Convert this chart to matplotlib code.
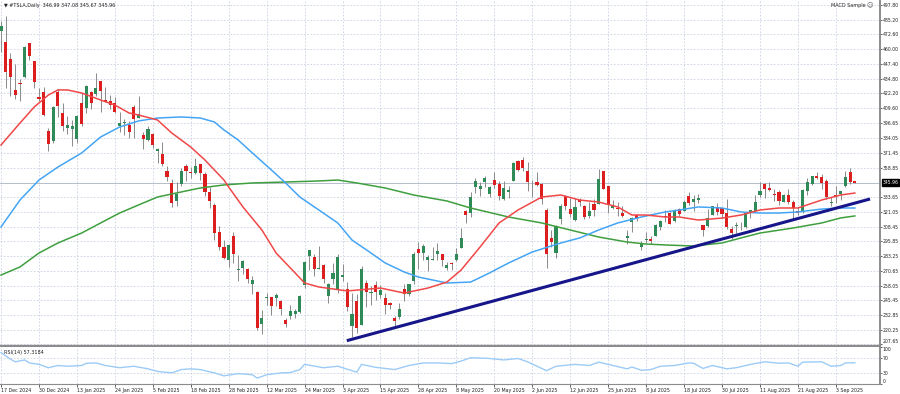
import matplotlib
matplotlib.use("Agg")
import matplotlib.pyplot as plt
import numpy as np
import pandas as pd

# trading days shown on the chart (US market holidays removed)
holidays = ["2024-12-25", "2025-01-01", "2025-01-09", "2025-01-20", "2025-02-17",
            "2025-04-18", "2025-05-26", "2025-06-19", "2025-07-04", "2025-09-01"]
dates = pd.bdate_range("2024-12-17", "2025-09-09")
dates = dates[~dates.isin(pd.to_datetime(holidays))]

opens = [
    475.90, 466.50, 451.88, 425.51, 431.00, 435.90, 465.16, 449.52, 419.40, 423.79,
    390.10, 381.48, 423.20, 405.83, 392.95, 391.40, 383.21, 414.34, 409.90, 423.49,
    421.50, 432.64, 416.81, 416.06, 414.45, 394.80, 396.91, 395.21, 410.78, 401.53,
    386.68, 382.63, 387.51, 373.03, 370.19, 356.21, 345.80, 329.94, 345.00, 360.62,
    355.01, 354.00, 361.51, 353.44, 338.14, 327.02, 303.71, 291.16, 279.50,
    300.34, 270.93, 272.92, 272.06, 259.32, 252.54, 225.31, 247.22, 248.13, 247.31,
    245.06, 228.16, 231.61, 233.35, 234.99, 258.08, 283.60, 282.66, 272.48, 275.58, 249.31,
    263.80, 254.60, 265.29, 255.38, 223.78, 245.00, 224.69, 260.00, 251.84, 258.36,
    249.91, 247.61, 243.47, 230.26, 230.96, 254.86, 250.50, 261.69, 288.98, 285.50, 279.90,
    280.01, 284.90, 284.57, 273.11, 276.88, 279.63, 290.21, 321.99, 320.00, 342.50,
    340.34, 346.24, 336.30, 347.87, 344.43, 331.90, 337.92, 347.35, 364.84, 365.29, 355.52,
    343.50, 346.60, 345.10, 322.49, 298.83, 285.96, 314.94, 334.40, 323.08, 313.97,
    331.29, 326.09, 317.31, 327.95, 327.54, 356.17, 342.70, 324.61, 324.51, 319.90,
    298.46, 312.63, 317.99, 291.37, 297.00, 297.55, 300.05, 307.89, 317.73, 319.68,
    312.80, 323.15, 321.66, 334.40, 329.74, 330.90, 310.00, 308.74, 318.45, 325.55, 324.53, 319.61,
    306.21, 309.08, 308.95, 307.89, 319.79, 321.43, 335.00, 345.00, 341.50, 335.76,
    337.66, 329.62, 335.79, 329.22, 322.08, 321.66, 338.90, 344.93, 351.94, 350.91, 347.23,
    328.23, 335.20, 336.15, 343.50, 354.64, 346.99,
]
highs = [
    483.99, 488.54, 456.36, 447.08, 434.51, 462.78, 465.33, 450.00, 427.00, 427.93,
    392.73, 411.88, 426.43, 414.33, 402.50, 399.28, 403.79, 422.64, 429.80, 424.00,
    439.74, 433.20, 428.00, 420.73, 418.88, 406.69, 400.59, 398.59, 412.50, 419.99,
    389.17, 394.00, 388.39, 375.40, 380.55, 360.00, 349.37, 346.40, 358.69, 362.00,
    359.10, 367.34, 362.30, 354.98, 342.40, 328.89, 309.00, 297.23, 293.88,
    303.94, 284.35, 279.55, 272.65, 266.25, 253.37, 237.06, 251.84, 248.29, 251.58,
    245.40, 230.10, 241.67, 238.00, 249.52, 278.64, 288.20, 284.90, 291.85, 276.10, 260.56,
    277.45, 284.99, 276.30, 261.00, 252.00, 250.44, 274.69, 262.49, 257.74, 261.80,
    258.75, 251.97, 244.34, 232.21, 242.79, 259.45, 259.54, 286.85, 294.86, 293.32, 284.45,
    290.87, 294.78, 284.85, 277.73, 277.92, 289.80, 307.04, 322.21, 337.59, 350.00,
    346.14, 351.62, 343.00, 354.99, 347.35, 347.27, 343.18, 363.79, 365.00, 367.71, 363.68,
    348.02, 355.40, 345.60, 324.55, 305.50, 309.83, 327.83, 335.50, 332.56, 332.99,
    332.47, 327.26, 329.32, 332.36, 357.54, 356.26, 343.00, 331.05, 329.34, 325.58,
    305.89, 316.83, 318.45, 296.15, 304.05, 300.15, 310.48, 314.09, 322.60, 321.20,
    323.50, 324.34, 330.90, 338.00, 335.41, 336.20, 310.15, 323.63, 326.25, 328.98, 324.72, 331.61,
    309.31, 312.12, 312.45, 320.47, 322.40, 335.15, 346.64, 345.26, 346.23, 340.47,
    339.30, 336.27, 340.55, 331.37, 324.90, 340.25, 349.53, 351.90, 355.39, 353.55, 348.75,
    333.33, 343.33, 338.89, 355.87, 358.44, 347.08,
]
lows = [
    457.51, 427.01, 420.02, 417.64, 415.41, 435.14, 451.02, 426.50, 415.75, 402.54,
    373.04, 379.45, 401.70, 390.00, 387.40, 377.29, 380.07, 394.54, 405.66, 409.13,
    419.75, 406.31, 414.59, 408.95, 405.78, 389.00, 386.50, 384.48, 384.41, 401.34,
    374.36, 381.40, 375.53, 363.18, 360.34, 347.00, 325.10, 326.33, 342.85, 347.50,
    350.02, 353.67, 348.00, 334.42, 324.70, 297.25, 288.04, 280.88, 273.60,
    277.30, 261.84, 267.71, 260.02, 250.73, 220.00, 217.02, 241.10, 232.60, 240.73,
    232.80, 222.28, 229.20, 230.05, 234.55, 256.33, 271.28, 266.51, 271.82, 260.57, 243.36,
    259.25, 251.27, 261.51, 236.00, 214.25, 217.80, 223.88, 239.33, 241.36, 245.93,
    247.54, 233.89, 237.68, 222.79, 229.85, 244.43, 249.20, 259.63, 272.42, 279.47, 270.78,
    279.81, 279.81, 274.40, 271.35, 271.00, 279.41, 290.00, 311.50, 316.80, 337.00,
    334.72, 342.33, 333.37, 341.63, 331.33, 331.39, 333.21, 347.32, 355.91, 356.00, 338.94,
    333.33, 343.04, 327.33, 273.21, 291.14, 281.85, 310.67, 322.50, 316.86, 313.30,
    326.41, 314.74, 315.45, 317.78, 327.48, 340.44, 320.40, 323.61, 317.50, 316.60,
    293.21, 303.82, 312.76, 288.77, 294.35, 293.55, 300.00, 305.65, 312.67, 310.50,
    312.62, 317.06, 321.42, 326.88, 321.55, 328.67, 300.41, 308.01, 318.25, 318.60, 315.81, 306.01,
    297.82, 303.00, 305.50, 306.93, 316.16, 320.98, 334.11, 332.94, 338.50, 330.40,
    327.02, 329.59, 327.85, 314.60, 318.68, 319.69, 335.03, 343.72, 349.16, 340.26, 331.70,
    325.60, 328.51, 331.48, 342.00, 344.84, 345.67,
]
closes = [
    479.86, 440.13, 436.17, 421.06, 430.60, 462.28, 454.13, 431.66, 417.41, 403.84,
    379.28, 410.44, 411.05, 394.36, 394.94, 394.74, 403.31, 396.36, 428.22, 413.82,
    426.50, 424.07, 415.11, 412.38, 406.58, 397.15, 398.09, 389.10, 400.28, 404.60,
    383.68, 392.21, 378.17, 374.32, 361.62, 350.73, 328.50, 336.51, 355.94, 355.84,
    354.11, 360.56, 354.40, 337.80, 330.53, 302.80, 290.80, 281.95, 292.98,
    284.65, 272.04, 279.10, 263.45, 262.67, 222.15, 230.58, 248.09, 240.68, 249.98,
    238.01, 225.31, 235.86, 236.26, 248.71, 278.39, 288.14, 272.06, 273.13, 263.55, 259.16,
    268.46, 282.76, 267.28, 239.43, 233.29, 221.86, 272.20, 252.40, 252.31, 252.35,
    254.11, 241.55, 241.37, 227.50, 237.97, 250.74, 259.51, 284.95, 285.88, 292.03, 282.16,
    280.52, 287.21, 280.26, 275.35, 276.22, 284.82, 298.26, 318.38, 334.07, 347.68,
    342.82, 349.98, 342.09, 343.82, 334.62, 341.04, 339.34, 362.89, 356.90, 358.43, 346.46,
    342.69, 344.27, 332.05, 284.70, 295.14, 308.58, 326.09, 326.43, 319.11, 325.31,
    329.13, 316.35, 322.05, 322.16, 348.68, 340.47, 327.55, 325.78, 323.63, 317.66,
    300.71, 315.65, 315.35, 293.94, 297.81, 295.88, 309.87, 313.51, 316.90, 310.78,
    321.67, 319.41, 329.65, 328.49, 332.11, 332.56, 305.30, 316.06, 325.59, 321.20, 319.04, 308.27,
    302.63, 309.26, 308.72, 319.91, 322.27, 329.65, 339.03, 340.84, 339.38, 335.58,
    330.56, 335.16, 329.31, 323.90, 320.11, 340.01, 346.60, 351.67, 349.60, 345.98, 333.87,
    329.36, 334.09, 338.53, 350.84, 346.40, 345.96,
]

# moving averages (bar index, price)
ma_red_bars = [0, 4, 7, 10, 12, 14, 17, 21, 24, 27, 29, 33, 36, 40, 43, 47, 48, 51, 55, 58,
               62, 64, 67, 73, 80, 85, 90, 94, 97, 101, 105, 109, 114, 118, 122, 126, 130, 133, 136, 140,
               143, 147, 152, 156, 160, 164, 168, 173, 177, 180]
ma_red = [378.1, 396.9, 410.6, 420.9, 425.2, 425.2, 422.6, 416.6, 412.3, 405.5,
          403.8, 399.5, 388.4, 376.4, 365.3, 348.2, 342.2, 325.2, 305.5, 285.8,
          268.8, 260.2, 256.8, 253.4, 255.9, 251.6, 255.9, 261.0, 271.3, 291.0,
          311.5, 322.6, 333.7, 335.4, 331.1, 329.4, 325.2, 318.3, 318.3, 316.6,
          316.6, 314.0, 315.7, 318.3, 322.6, 324.3, 324.3, 331.1, 335.4, 337.1]
ma_blue_bars = [0, 4, 8, 12, 17, 21, 25, 29, 33, 38, 42, 45, 47, 50, 53, 57, 60, 63, 67, 71,
                74, 78, 81, 85, 88, 94, 99, 103, 107, 112, 118, 122, 126, 130, 135, 140, 143, 147, 152, 156,
                160, 164, 168, 173, 177, 180]
ma_blue = [308.1, 331.1, 348.2, 359.3, 371.3, 385.0, 393.5, 398.7, 401.2, 402.1,
           401.2, 397.8, 391.0, 382.4, 371.3, 356.8, 345.7, 333.7, 322.6, 311.5,
           296.9, 285.8, 277.3, 269.6, 265.3, 260.2, 261.0, 268.8, 277.3, 286.7,
           294.4, 298.7, 305.5, 311.5, 316.6, 320.9, 322.6, 325.2, 324.3, 320.9,
           320.0, 320.0, 320.9, 323.4, 324.3, 324.3]
ma_green_bars = [0, 4, 8, 12, 17, 21, 25, 29, 33, 38, 42, 47, 53, 60, 67, 71, 75, 81, 87, 94,
                 99, 107, 114, 120, 126, 132, 136, 140, 146, 152, 156, 160, 167, 173, 177, 180]
ma_green = [267.0, 273.9, 285.8, 294.4, 302.9, 311.5, 320.0, 326.9, 333.7, 338.0,
            341.4, 344.0, 345.7, 346.5, 347.4, 348.2, 345.7, 341.4, 335.4, 330.3,
            324.3, 316.6, 311.5, 305.5, 299.5, 295.2, 293.5, 292.7, 291.8, 294.4,
            298.7, 302.9, 307.2, 311.5, 315.8, 317.5]

# RSI(14)
rsi_bars = [0, 2, 3, 5, 6, 8, 10, 12, 14, 17, 18, 20, 22, 25, 28, 31, 33, 36, 38, 40,
            42, 45, 47, 50, 53, 54, 56, 59, 61, 63, 64, 68, 71, 75, 76, 79, 83, 86, 89, 92,
            95, 97, 99, 103, 106, 109, 111, 115, 117, 121, 124, 126, 128, 132, 133, 135, 137, 139, 142, 145,
            146, 148, 150, 153, 155, 158, 161, 164, 166, 168, 169, 173, 175, 177, 178, 180]
rsi = [85, 67, 60, 65, 57, 53, 44, 50, 48, 50, 56, 57, 50, 44, 48, 41, 34, 30, 39, 41,
       39, 30, 22, 28, 25, 16, 25, 30, 31, 39, 53, 44, 48, 32, 53, 45, 39, 50, 57, 57,
       55, 62, 71, 69, 65, 69, 60, 36, 48, 53, 50, 59, 53, 41, 46, 37, 39, 48, 50, 57,
       56, 42, 50, 41, 44, 53, 60, 56, 57, 48, 59, 60, 48, 50, 57, 57.3]

# hand drawn support line
trend_bars = [72.9, 183.2]
trend_prices = [210.9, 332.0]

price_ticks = [497.80, 485.20, 472.60, 460.00, 447.40, 434.80, 422.20, 409.60, 396.65, 384.05,
               371.45, 358.85, 333.65, 321.05, 308.45, 295.85, 283.25, 270.65, 258.05, 245.45,
               232.85, 220.25, 207.65]

opens = np.array(opens)
highs = np.array(highs)
lows = np.array(lows)
closes = np.array(closes)
idx = np.arange(len(closes))

W, H = 900, 394
fig = plt.figure(figsize=(W / 100, H / 100), dpi=100)
ax = fig.add_axes([0, (H - 346) / H, 880 / W, 346 / H])
ax2 = fig.add_axes([0, (H - 384) / H, 880 / W, 37 / H], sharex=ax)

grid_kw = dict(color="#c9d1e2", lw=0.6, ls=(0, (2, 2)))
date_ticks = idx[::8]
date_labels = [f"{d.day} {d.strftime('%b %Y')}" for d in dates[::8]]

# candles
up = closes >= opens
colors = np.where(up, "#2e8b57", "#dc1e1e")
ax.vlines(idx, lows, highs, color="#8a8a8a", lw=0.7, zorder=2)
body = np.maximum(np.abs(closes - opens), 0.6)
ax.bar(idx, body, bottom=np.minimum(opens, closes), width=0.66, color=colors,
       linewidth=0, zorder=3)

ax.plot(ma_green_bars, ma_green, color="#3f9f3f", lw=1.1, zorder=4)
ax.plot(ma_blue_bars, ma_blue, color="#45a5f5", lw=1.1, zorder=4)
ax.plot(ma_red_bars, ma_red, color="#f04848", lw=1.1, zorder=4)
ax.plot(trend_bars, trend_prices, color="#16168a", lw=2.2, solid_capstyle="butt", zorder=5)
ax.axhline(closes[-1], color="#b6bfcd", lw=0.7, zorder=1)

ax.set_xlim(-0.21, 185.3)
ax.set_ylim(206.35, 502.07)
for t in date_ticks:
    ax.axvline(t, zorder=0, **grid_kw)
    ax2.axvline(t, zorder=0, **grid_kw)
for p in price_ticks:
    ax.axhline(p, zorder=0, **grid_kw)

ax.yaxis.tick_right()
ax.set_yticks(price_ticks)
ax.set_yticklabels([f"{p:.2f}" for p in price_ticks])
ax.tick_params(axis="y", labelsize=3.3, length=1.5, width=0.5, pad=0.6, colors="#222222")
ax.get_yticklabels()[-1].set_va("bottom")
ax.tick_params(axis="x", bottom=False, labelbottom=False)
for s in ["top", "left"]:
    ax.spines[s].set_visible(False)
ax.spines["right"].set_color("#8c8c8c")
ax.spines["right"].set_linewidth(1.4)
ax.spines["bottom"].set_color("#8c8c8c")
ax.spines["bottom"].set_linewidth(1.7)

ax.annotate(f"{closes[-1]:.2f}", xy=(1.0, closes[-1]), xycoords=("axes fraction", "data"),
            xytext=(1.8, 0), textcoords="offset points", va="center", ha="left",
            fontsize=3.3, color="white",
            bbox=dict(boxstyle="square,pad=0.15", fc="black", ec="black"))

ax.text(0.004, 0.992, "\u25bc #TSLA,Daily  346.99 347.08 345.67 345.96", transform=ax.transAxes,
        fontsize=3.5, va="top", ha="left", color="#222222")
ax.text(0.984, 0.992, "MACD Sample", transform=ax.transAxes,
        fontsize=3.5, va="top", ha="right", color="#222222")
ax.text(0.9915, 0.993, "\u263a", transform=ax.transAxes,
        fontsize=4.5, va="top", ha="right", color="#555555")

# RSI panel
ax2.plot(rsi_bars, rsi, color="#9ccbf7", lw=1.0, zorder=3)
ax2.axhline(70, zorder=0, **grid_kw)
ax2.axhline(30, zorder=0, **grid_kw)
ax2.set_ylim(0, 100)
ax2.yaxis.tick_right()
ax2.set_yticks([100, 70, 30, 0])
ax2.set_yticklabels(["100", "70", "30", "0"])
ax2.tick_params(axis="y", labelsize=3.3, length=1.5, width=0.5, pad=0.6, colors="#222222")
rsi_labels = ax2.get_yticklabels()
rsi_labels[0].set_va("top")
rsi_labels[-1].set_va("bottom")
ax2.set_xticks(date_ticks)
ax2.set_xticklabels(date_labels, ha="left")
ax2.tick_params(axis="x", labelsize=3.4, length=2, width=0.5, pad=1, colors="#222222")
for s in ["left", "top"]:
    ax2.spines[s].set_visible(False)
for s in ["right", "bottom"]:
    ax2.spines[s].set_color("#8c8c8c")
ax2.spines["right"].set_linewidth(1.4)
ax2.spines["bottom"].set_linewidth(0.8)
ax2.text(0.004, 0.93, "RSI(14) 57.3184", transform=ax2.transAxes,
         fontsize=3.5, va="top", ha="left", color="#222222")

fig.savefig("out.png", dpi=100, facecolor="white")
